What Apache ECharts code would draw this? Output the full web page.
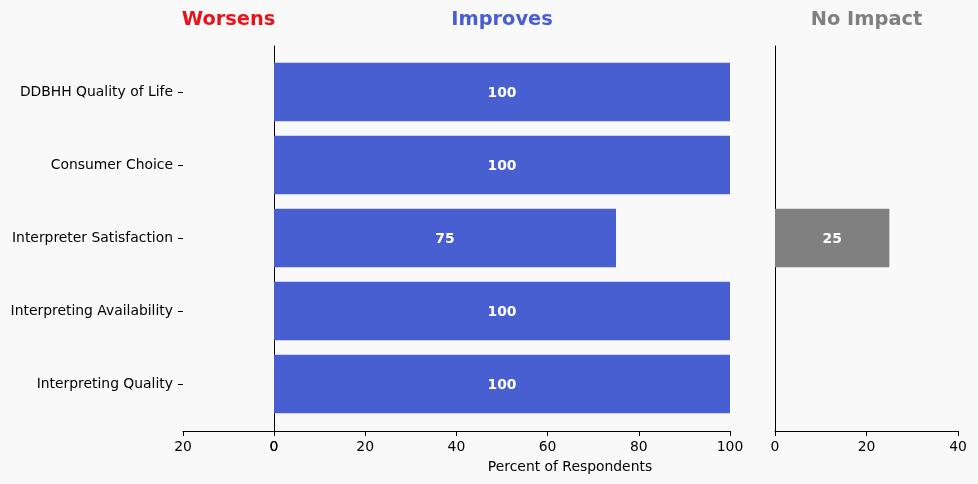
<!DOCTYPE html>
<html><head><meta charset="utf-8">
<script src="https://cdn.jsdelivr.net/npm/echarts@6/dist/echarts.min.js"></script>
<style>html,body{margin:0;padding:0;background:#f9f9f9;}#c{width:978px;height:484px;}</style>
</head><body><div id="c"></div>
<script>
const categories = ["DDBHH Quality of Life","Consumer Choice","Interpreter Satisfaction","Interpreting Availability","Interpreting Quality"];
const worsens = [0,0,0,0,0];
const improves = [100,100,75,100,100];
const noImpact = [0,0,25,0,0];
const panelTitles = ["Worsens","Improves","No Impact"];
const xAxisTitle = "Percent of Respondents";

const font = "DejaVu Sans";
const fs = 13.9;
const chart = echarts.init(document.getElementById('c'));
const lbl = {show:true, position:'inside', offset:[0,1], color:'#fff', fontWeight:'bold', fontSize:fs, fontFamily:font,
  formatter: p => p.value ? String(p.value) : ''};
const panels = [{l:183, r:704, max:20, inv:true}, {l:274, r:248, max:100, inv:false}, {l:775, r:20, max:40, inv:false}];
const grids = [], xAxes = [], yAxes = [];
panels.forEach((p,i) => {
  grids.push({left:p.l, right:p.r, top:46, bottom:53});
  grids.push({left:p.l, right:p.r, top:55.5, bottom:63.5});
  xAxes.push({gridIndex:2*i, type:'value', min:0, max:p.max, interval:20, inverse:p.inv,
    axisLine:{show:true, onZero:false, lineStyle:{color:'#000', width:1}},
    axisTick:{show:true, length:5, lineStyle:{color:'#000'}},
    axisLabel:{color:'#000', fontSize:fs, fontFamily:font, margin:9},
    splitLine:{show:false}});
  xAxes.push({gridIndex:2*i+1, type:'value', min:0, max:p.max, inverse:p.inv, show:false, splitLine:{show:false}});
  yAxes.push({gridIndex:2*i, type:'value', min:0, max:1, position:'left',
    axisLine:{show:i>0, onZero:false, lineStyle:{color:'#000', width:1}},
    axisTick:{show:false}, axisLabel:{show:false}, splitLine:{show:false}});
  yAxes.push({gridIndex:2*i+1, type:'category', data:categories, inverse:true, position:'left',
    axisLine:{show:false, onZero:false},
    axisTick:{show:i===0, length:5, alignWithLabel:true, lineStyle:{color:'#000'}},
    axisLabel:{show:i===0, color:'#000', fontSize:fs, fontFamily:font, margin:10, padding:[4,0,0,0]}});
});
chart.setOption({
  backgroundColor:'#f9f9f9',
  animation:false,
  grid:grids, xAxis:xAxes, yAxis:yAxes,
  series:[
    {type:'bar', xAxisIndex:1, yAxisIndex:1, data:worsens, barCategoryGap:'20%', itemStyle:{color:'#e8141b'}, label:lbl},
    {type:'bar', xAxisIndex:3, yAxisIndex:3, data:improves, barCategoryGap:'20%', itemStyle:{color:'#485fd2'}, label:lbl},
    {type:'bar', xAxisIndex:5, yAxisIndex:5, data:noImpact, barCategoryGap:'20%', itemStyle:{color:'#808080'}, label:lbl}
  ],
  graphic:[
    {type:'text', x:228.5, y:20, style:{text:panelTitles[0], fill:'#e8141b', font:'bold 19.4px "DejaVu Sans"', textAlign:'center', textVerticalAlign:'middle'}},
    {type:'text', x:502, y:20, style:{text:panelTitles[1], fill:'#485fd2', font:'bold 19.4px "DejaVu Sans"', textAlign:'center', textVerticalAlign:'middle'}},
    {type:'text', x:866.5, y:20, style:{text:panelTitles[2], fill:'#808080', font:'bold 19.4px "DejaVu Sans"', textAlign:'center', textVerticalAlign:'middle'}},
    {type:'text', x:570, y:467, style:{text:xAxisTitle, fill:'#000', font:'13.9px "DejaVu Sans"', textAlign:'center', textVerticalAlign:'middle'}}
  ]
});
</script></body></html>
